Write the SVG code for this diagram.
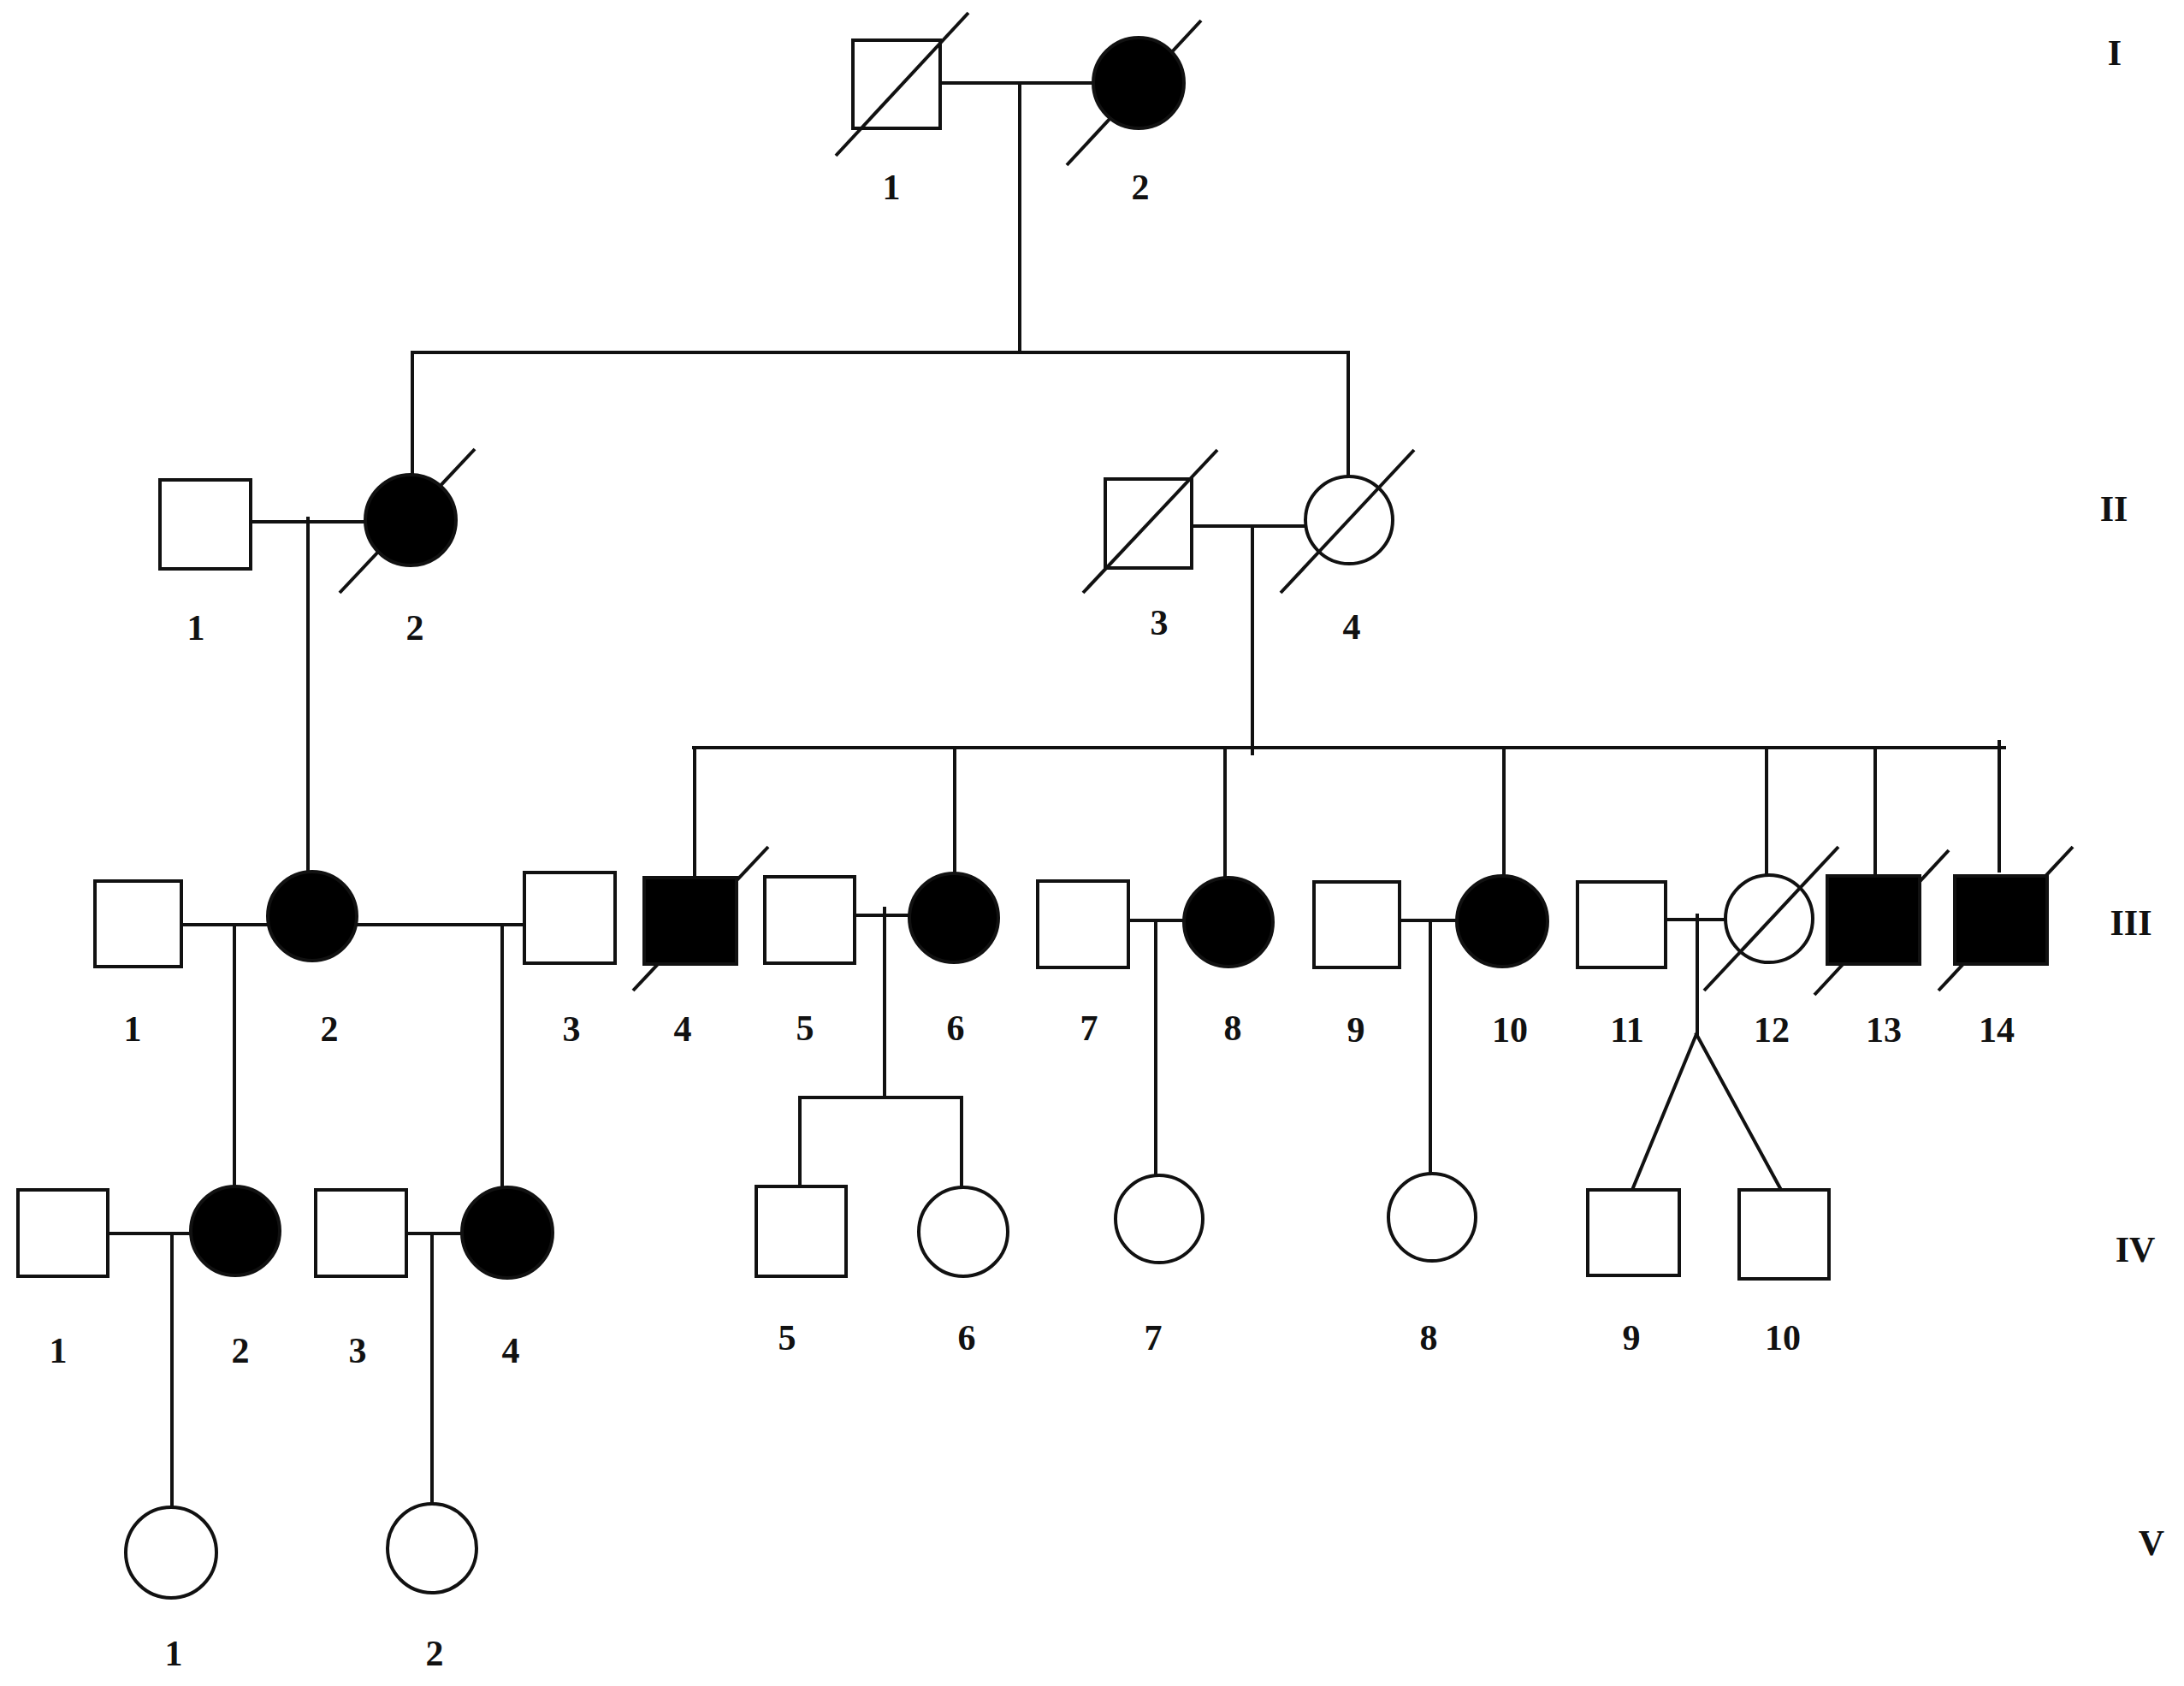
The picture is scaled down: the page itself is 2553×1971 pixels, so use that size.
<svg xmlns="http://www.w3.org/2000/svg" width="2553" height="1971" viewBox="0 0 2553 1971">
<style>
.m{fill:#fff;stroke:#111;stroke-width:4}
.a{fill:#000;stroke:#111;stroke-width:4}
.l{stroke:#111;stroke-width:4;fill:none;stroke-linecap:square}
.d{stroke:#111;stroke-width:4;fill:none}
text{font-family:"Liberation Serif","Times New Roman",serif;font-weight:bold;font-size:42px;fill:#111;text-anchor:middle}
</style>
<rect width="2553" height="1971" fill="#fff"/>
<g id="connectors" class="l">
<path d="M1099 97H1278M1192 97V412M482 412H1576M482 412V555M1576 412V556"/>
<path d="M293 610H427M360 606V1020"/>
<path d="M1393 615H1527M1464 615V881M811 874H2343M812 874V1026M1116 874V1020M1432 874V1025M1758 874V1023M2065 874V1021M2192 874V1024M2337 867V1018"/>
<path d="M212 1081H313M274 1081V1385M416 1081H613M587 1081V1389"/>
<path d="M999 1070H1063M1034 1062V1283M935 1283H1124M935 1283V1387M1124 1283V1387"/>
<path d="M1319 1076H1385M1351 1076V1373"/>
<path d="M1636 1076H1702M1672 1076V1373"/>
<path d="M1947 1075H2018M1984 1070V1209M1983 1209L1908 1391M1983 1209L2082 1391"/>
<path d="M126 1442H224M201 1442V1762M475 1442H540M505 1442V1757"/>
</g>
<g id="I-1"><rect class="m" x="997" y="47" width="102" height="103"/><line class="d" x1="977" y1="182" x2="1132" y2="15"/><text x="1042" y="233">1</text></g>
<g id="I-2"><line class="d" x1="1247" y1="193" x2="1404" y2="24"/><circle class="a" cx="1331" cy="97" r="53"/><text x="1333" y="233">2</text></g>
<g id="II-1"><rect class="m" x="187" y="561" width="106" height="104"/><text x="229" y="748">1</text></g>
<g id="II-2"><line class="d" x1="397" y1="693" x2="555" y2="525"/><circle class="a" cx="480" cy="608" r="53"/><text x="485" y="748">2</text></g>
<g id="II-3"><rect class="m" x="1292" y="560" width="101" height="104"/><line class="d" x1="1266" y1="693" x2="1423" y2="526"/><text x="1355" y="742">3</text></g>
<g id="II-4"><circle class="m" cx="1577" cy="608" r="51"/><line class="d" x1="1497" y1="693" x2="1653" y2="526"/><text x="1580" y="747">4</text></g>
<g id="III-1"><rect class="m" x="111" y="1030" width="101" height="100"/><text x="155" y="1217">1</text></g>
<g id="III-2"><circle class="a" cx="365" cy="1071" r="52"/><text x="385" y="1217">2</text></g>
<g id="III-3"><rect class="m" x="613" y="1020" width="106" height="106"/><text x="668" y="1217">3</text></g>
<g id="III-4"><line class="d" x1="740" y1="1158" x2="898" y2="990"/><rect class="a" x="753" y="1026" width="108" height="101"/><text x="798" y="1217">4</text></g>
<g id="III-5"><rect class="m" x="894" y="1025" width="105" height="101"/><text x="941" y="1216">5</text></g>
<g id="III-6"><circle class="a" cx="1115" cy="1073" r="52"/><text x="1117" y="1216">6</text></g>
<g id="III-7"><rect class="m" x="1213" y="1030" width="106" height="101"/><text x="1273" y="1216">7</text></g>
<g id="III-8"><circle class="a" cx="1436" cy="1078" r="52"/><text x="1441" y="1216">8</text></g>
<g id="III-9"><rect class="m" x="1536" y="1031" width="100" height="100"/><text x="1585" y="1218">9</text></g>
<g id="III-10"><circle class="a" cx="1756" cy="1077" r="53"/><text x="1765" y="1218">10</text></g>
<g id="III-11"><rect class="m" x="1844" y="1031" width="103" height="100"/><text x="1902" y="1218">11</text></g>
<g id="III-12"><circle class="m" cx="2068" cy="1074" r="51"/><line class="d" x1="1992" y1="1158" x2="2149" y2="990"/><text x="2071" y="1218">12</text></g>
<g id="III-13"><line class="d" x1="2121" y1="1163" x2="2278" y2="994"/><rect class="a" x="2136" y="1024" width="108" height="103"/><text x="2202" y="1218">13</text></g>
<g id="III-14"><line class="d" x1="2266" y1="1158" x2="2423" y2="990"/><rect class="a" x="2285" y="1024" width="108" height="103"/><text x="2334" y="1218">14</text></g>
<g id="IV-1"><rect class="m" x="21" y="1391" width="105" height="101"/><text x="68" y="1593">1</text></g>
<g id="IV-2"><circle class="a" cx="275" cy="1439" r="52"/><text x="281" y="1593">2</text></g>
<g id="IV-3"><rect class="m" x="369" y="1391" width="106" height="101"/><text x="418" y="1593">3</text></g>
<g id="IV-4"><circle class="a" cx="593" cy="1441" r="53"/><text x="597" y="1593">4</text></g>
<g id="IV-5"><rect class="m" x="884" y="1387" width="105" height="105"/><text x="920" y="1578">5</text></g>
<g id="IV-6"><circle class="m" cx="1126" cy="1440" r="52"/><text x="1130" y="1578">6</text></g>
<g id="IV-7"><circle class="m" cx="1355" cy="1425" r="51"/><text x="1348" y="1578">7</text></g>
<g id="IV-8"><circle class="m" cx="1674" cy="1423" r="51"/><text x="1670" y="1578">8</text></g>
<g id="IV-9"><rect class="m" x="1856" y="1391" width="107" height="100"/><text x="1907" y="1578">9</text></g>
<g id="IV-10"><rect class="m" x="2033" y="1391" width="105" height="104"/><text x="2084" y="1578">10</text></g>
<g id="V-1"><circle class="m" cx="200" cy="1815" r="53"/><text x="203" y="1947">1</text></g>
<g id="V-2"><circle class="m" cx="505" cy="1810" r="52"/><text x="508" y="1947">2</text></g>
<g id="generations">
<text x="2472" y="76">I</text>
<text x="2471" y="609">II</text>
<text x="2491" y="1093">III</text>
<text x="2496" y="1475">IV</text>
<text x="2515" y="1818">V</text>
</g>
</svg>
